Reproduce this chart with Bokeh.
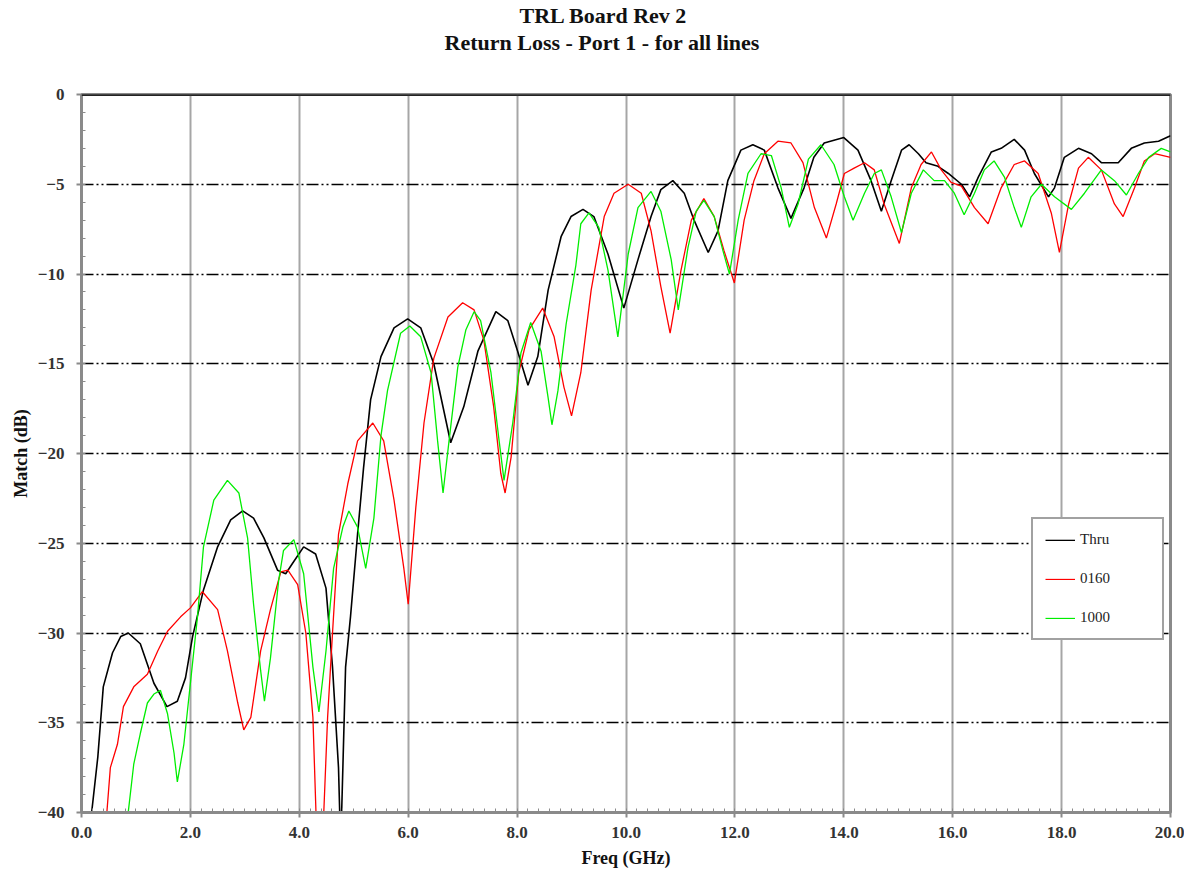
from bokeh.plotting import figure
from bokeh.models import (Range1d, SingleIntervalTicker, PrintfTickFormatter, Span, Title, Legend, LegendItem)
from bokeh.embed import file_html
from bokeh.resources import INLINE

# ---- data (Freq in GHz, Match in dB) ----
thru_f = [0.15, 0.30, 0.40, 0.57, 0.72, 0.86, 1.08, 1.33, 1.57, 1.76, 1.91, 2.04, 2.24, 2.50, 2.74, 2.96,
          3.16, 3.35, 3.60, 3.75, 3.88, 4.08, 4.30, 4.49, 4.61, 4.72, 4.76, 4.85, 4.94, 5.07, 5.18, 5.31,
          5.50, 5.74, 5.99, 6.23, 6.47, 6.78, 7.02, 7.28, 7.61, 7.83, 8.01, 8.20, 8.38, 8.57, 8.81, 8.99,
          9.21, 9.41, 9.67, 9.96, 10.22, 10.46, 10.64, 10.86, 11.07, 11.25, 11.51, 11.69, 11.87, 12.11,
          12.33, 12.54, 12.79, 13.03, 13.27, 13.45, 13.64, 14.00, 14.26, 14.50, 14.69, 14.87, 15.06, 15.20,
          15.37, 15.51, 15.73, 15.92, 16.16, 16.31, 16.47, 16.71, 16.89, 17.13, 17.32, 17.50, 17.76, 17.87,
          18.05, 18.31, 18.55, 18.73, 19.04, 19.28, 19.52, 19.78, 20.00]
thru_db = [-41.0, -36.9, -33.0, -31.1, -30.2, -30.0, -30.6, -32.8, -34.1, -33.8, -32.5, -30.2, -27.6, -25.2, -23.7, -23.2,
           -23.6, -24.7, -26.5, -26.7, -26.1, -25.2, -25.6, -27.5, -31.9, -37.5, -42.0, -31.9, -29.1, -24.5, -20.8, -17.0,
           -14.6, -13.0, -12.5, -13.0, -15.0, -19.4, -17.4, -14.3, -12.1, -12.6, -14.3, -16.2, -14.6, -10.9, -7.9, -6.8,
           -6.4, -6.8, -8.9, -11.9, -9.2, -6.8, -5.3, -4.8, -5.5, -7.0, -8.8, -7.6, -4.8, -3.1,
           -2.8, -3.1, -5.2, -6.9, -5.2, -3.5, -2.7, -2.4, -3.1, -4.8, -6.5, -4.8, -3.1, -2.8,
           -3.3, -3.8, -4.0, -4.4, -5.0, -5.7, -4.6, -3.2, -3.0, -2.5, -3.1, -4.4, -5.7, -5.2,
           -3.5, -3.0, -3.3, -3.8, -3.8, -3.0, -2.7, -2.6, -2.3]

l0160_f = [0.44, 0.53, 0.66, 0.77, 0.96, 1.21, 1.40, 1.58, 1.82, 2.00, 2.22, 2.50, 2.68, 2.87, 2.98, 3.11,
           3.29, 3.47, 3.66, 3.79, 3.97, 4.12, 4.25, 4.37, 4.52, 4.61, 4.72, 4.89, 5.07, 5.35, 5.55, 5.74,
           5.92, 6.00, 6.14, 6.29, 6.47, 6.73, 7.00, 7.21, 7.39, 7.57, 7.70, 7.78, 7.89, 8.03, 8.22, 8.47,
           8.68, 8.86, 9.00, 9.17, 9.36, 9.60, 9.78, 10.04, 10.28, 10.46, 10.64, 10.81, 11.01, 11.20, 11.43,
           11.62, 11.80, 11.99, 12.17, 12.35, 12.54, 12.79, 13.03, 13.25, 13.46, 13.68, 13.86, 14.01, 14.19,
           14.38, 14.56, 14.74, 15.02, 15.24, 15.42, 15.61, 15.79, 15.97, 16.16, 16.40, 16.65, 16.89, 17.13,
           17.32, 17.57, 17.81, 17.96, 18.13, 18.31, 18.49, 18.73, 18.97, 19.13, 19.34, 19.52, 19.71, 20.00]
l0160_db = [-41.0, -37.5, -36.2, -34.1, -33.0, -32.3, -31.0, -29.9, -29.1, -28.6, -27.7, -28.7, -31.0, -33.9, -35.4, -34.7,
            -31.0, -28.7, -26.6, -26.5, -27.3, -30.0, -34.7, -46.0, -34.7, -30.0, -24.5, -21.7, -19.3, -18.3, -19.3, -22.6,
            -26.4, -28.4, -23.0, -18.3, -14.7, -12.4, -11.6, -12.0, -13.7, -17.4, -21.1, -22.2, -20.2, -15.5, -13.1, -11.9,
            -13.5, -16.3, -17.9, -15.5, -10.9, -6.8, -5.5, -5.0, -5.5, -7.6, -10.7, -13.3, -9.8, -7.0, -5.8,
            -6.8, -8.7, -10.5, -7.0, -4.8, -3.3, -2.6, -2.7, -3.8, -6.3, -8.0, -6.1, -4.4, -4.1,
            -3.8, -4.2, -6.1, -8.3, -5.2, -3.9, -3.2, -4.2, -4.9, -5.1, -6.3, -7.2, -5.2, -3.9,
            -3.7, -4.4, -6.6, -8.8, -6.1, -4.1, -3.5, -4.2, -6.1, -6.8, -5.2, -3.7, -3.3, -3.5]

l1000_f = [0.82, 0.96, 1.08, 1.21, 1.33, 1.45, 1.58, 1.70, 1.76, 1.88, 2.00, 2.13, 2.24, 2.43, 2.68, 2.89,
           3.05, 3.16, 3.29, 3.36, 3.47, 3.62, 3.71, 3.90, 4.08, 4.25, 4.36, 4.49, 4.63, 4.80, 4.91, 5.07,
           5.22, 5.37, 5.50, 5.62, 5.86, 6.03, 6.23, 6.42, 6.54, 6.64, 6.75, 6.91, 7.06, 7.21, 7.33, 7.52,
           7.67, 7.76, 7.92, 8.07, 8.25, 8.44, 8.57, 8.64, 8.75, 8.90, 9.08, 9.17, 9.32, 9.50, 9.67, 9.85,
           10.04, 10.22, 10.46, 10.64, 10.83, 10.96, 11.14, 11.29, 11.43, 11.62, 11.78, 11.90, 12.06, 12.24,
           12.48, 12.67, 12.85, 13.00, 13.16, 13.35, 13.58, 13.82, 14.01, 14.17, 14.38, 14.56, 14.69, 14.87,
           15.06, 15.24, 15.46, 15.66, 15.85, 16.03, 16.21, 16.40, 16.58, 16.76, 16.95, 17.13, 17.26, 17.44,
           17.63, 17.87, 18.18, 18.42, 18.73, 18.97, 19.19, 19.41, 19.60, 19.83, 20.00]
l1000_db = [-41.0, -37.3, -35.6, -33.9, -33.4, -33.2, -34.5, -36.7, -38.3, -36.2, -32.8, -29.1, -25.2, -22.6, -21.5, -22.2,
            -24.7, -28.4, -32.1, -33.8, -31.4, -27.1, -25.4, -24.8, -26.7, -31.9, -34.4, -31.0, -26.4, -24.1, -23.2, -24.1,
            -26.4, -23.6, -19.0, -16.5, -13.3, -12.9, -13.5, -15.5, -19.3, -22.2, -19.3, -15.2, -13.1, -12.1, -12.6, -15.5,
            -19.3, -21.5, -18.3, -14.4, -12.7, -14.3, -16.9, -18.4, -16.5, -12.8, -9.5, -7.2, -6.6, -7.4, -9.8, -13.5,
            -8.9, -6.3, -5.4, -6.5, -9.2, -12.0, -8.5, -6.5, -5.9, -6.8, -8.7, -10.0, -7.0, -4.4,
            -3.3, -3.4, -5.2, -7.4, -6.1, -3.6, -2.8, -3.9, -5.7, -7.0, -5.5, -4.4, -4.2, -5.7,
            -7.7, -5.5, -4.2, -4.8, -4.8, -5.5, -6.7, -5.5, -4.2, -3.7, -4.6, -6.3, -7.4, -5.7,
            -5.0, -5.7, -6.4, -5.5, -4.2, -4.8, -5.6, -4.4, -3.5, -3.0, -3.2]

series_names = ["Thru", "0160", "1000"]
series_colors = ["#000000", "#ff0000", "#00ee00"]

SERIF = "Liberation Serif"

p = figure(width=1184, height=872, output_backend="svg", toolbar_location=None,
           x_range=Range1d(0, 20), y_range=Range1d(-40, 0),
           min_border_left=81, min_border_right=14, min_border_top=94, min_border_bottom=60,
           background_fill_color="white", border_fill_color="white")

# titles: p.title is outermost; the first panel added "above" sits nearest the plot
p.title.text = "TRL Board  Rev 2"
p.title.align = "left"
p.title.offset = 438
p.title.text_font = SERIF
p.title.text_font_size = "22px"
p.title.text_font_style = "bold"
p.title.text_color = "#111111"
p.title.standoff = 0
spacer = Title(text=" ", text_font_size="2px", standoff=36)
p.add_layout(spacer, "above")
t2 = Title(text="Return Loss - Port 1 - for all lines", align="left", offset=363,
           text_font=SERIF, text_font_size="22px", text_font_style="bold",
           text_color="#111111", standoff=0)
p.add_layout(t2, "above")

# axes
p.xaxis.ticker = SingleIntervalTicker(interval=2, num_minor_ticks=10)
p.yaxis.ticker = SingleIntervalTicker(interval=5, num_minor_ticks=5)
p.xaxis.formatter = PrintfTickFormatter(format="%.1f")
for ax in (p.xaxis[0], p.yaxis[0]):
    ax.axis_line_color = "#8a8a8a"
    ax.axis_line_width = 3
    ax.major_tick_line_color = "#8a8a8a"
    ax.minor_tick_line_color = "#8a8a8a"
    ax.major_tick_line_width = 2
    ax.major_tick_out = 5
    ax.major_tick_in = 0
    ax.minor_tick_in = 4
    ax.minor_tick_out = 0
    ax.major_label_text_font = SERIF
    ax.major_label_text_font_style = "bold"
    ax.major_label_text_font_size = "17px"
    ax.major_label_text_color = "#333333"
    ax.axis_label_text_font = SERIF
    ax.axis_label_text_font_style = "bold"
    ax.axis_label_text_font_size = "18px"
    ax.axis_label_text_color = "#111111"
p.xaxis.axis_label = "Freq (GHz)"
p.yaxis.axis_label = "Match (dB)"
p.xaxis.major_label_standoff = 9
p.yaxis.major_label_standoff = 12
p.xaxis.axis_label_standoff = 7
p.yaxis.axis_label_standoff = 4

# grids
p.xgrid.grid_line_color = "#a6a6a6"
p.xgrid.grid_line_width = 2
p.ygrid.grid_line_color = "#000000"
p.ygrid.grid_line_width = 1.5
p.ygrid.grid_line_dash = "12 3 2 3 2 3"

p.outline_line_color = "#8a8a8a"
p.outline_line_width = 3
p.add_layout(Span(location=0, dimension="width", line_color="#000000", line_width=2.5))

# lines
renderers = []
for f, db, c, w in ((thru_f, thru_db, series_colors[0], 1.6),
                    (l0160_f, l0160_db, series_colors[1], 1.3),
                    (l1000_f, l1000_db, series_colors[2], 1.3)):
    renderers.append(p.line(f, db, line_color=c, line_width=w))

legend = Legend(items=[LegendItem(label=n, renderers=[r]) for n, r in zip(series_names, renderers)],
                location=(950, 172), margin=0, padding=12, spacing=22,
                glyph_height=2, label_height=2, glyph_width=30, label_width=70, label_standoff=5,
                label_text_font=SERIF, label_text_font_size="15px", label_text_color="#222222",
                border_line_color="#444444", border_line_width=2.5,
                background_fill_color="white", background_fill_alpha=1.0)
p.add_layout(legend, "center")

open("out.html", "w").write(file_html(p, INLINE))
